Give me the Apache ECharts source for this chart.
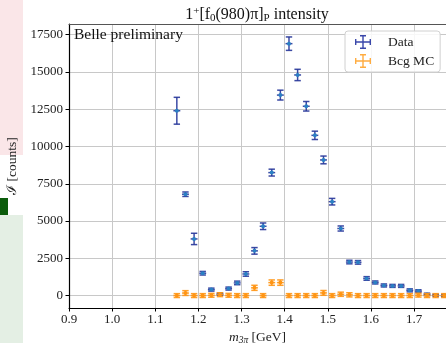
<!DOCTYPE html>
<html><head><meta charset="utf-8">
<script src="https://cdn.jsdelivr.net/npm/echarts@6/dist/echarts.min.js"></script>
<style>html,body{margin:0;padding:0;background:#fff}#c{width:446px;height:343px}</style>
</head><body><div id="c"></div>
<script>
const mass = [1.15,1.17,1.19,1.21,1.23,1.25,1.27,1.29,1.31,1.33,1.35,1.37,1.39,1.41,1.43,1.45,
              1.47,1.49,1.51,1.53,1.55,1.57,1.59,1.61,1.63,1.65,1.67,1.69,1.71,1.73,1.75,1.77];
const dataVals = [12400,6800,3800,1500,400,100,470,850,1450,3000,4650,8250,13450,16900,14800,12700,
                  10750,9100,6300,4500,2250,2230,1150,880,680,650,650,350,300,80,20,0];
const dataErr = [900,150,380,120,100,80,100,120,150,220,220,230,330,450,380,320,
                 280,260,220,170,120,120,120,100,100,100,100,100,90,80,70,70];
const bcgVals = [0,170,0,0,20,60,20,0,0,520,0,870,870,0,0,0,
                 0,180,0,90,50,0,0,0,0,0,0,0,30,0,0,0];
const bcgErr = [130,160,130,130,130,130,130,130,130,170,130,180,180,130,130,130,
                130,160,130,140,140,130,130,130,130,130,130,130,130,130,130,130];
const binHalfWidth = 0.008;
const yTicks = [0,2500,5000,7500,10000,12500,15000,17500];
const xTicks = [0.9,1.0,1.1,1.2,1.3,1.4,1.5,1.6,1.7];

const FONT = 'Liberation Serif';
const BLUE = '#27369a', BLUEDOT = '#2a80c4', ORANGE = '#ff9514';
const chart = echarts.init(document.getElementById('c'), null, {renderer:'canvas'});

function errRender(color, dotColor) {
  return function(params, api) {
    const x = api.value(0), y = api.value(1), e = api.value(2);
    const c = api.coord([x, y]);
    const top = api.coord([x, y + e]);
    const bot = api.coord([x, y - e]);
    const left = api.coord([x - binHalfWidth, y]);
    const right = api.coord([x + binHalfWidth, y]);
    const cap = 3.2;
    const st = {stroke: color, lineWidth: 1.5, opacity: 0.9};
    return {type:'group', children:[
      {type:'line', shape:{x1:c[0], y1:top[1], x2:c[0], y2:bot[1]}, style: st},
      {type:'line', shape:{x1:c[0]-cap, y1:top[1], x2:c[0]+cap, y2:top[1]}, style: st},
      {type:'line', shape:{x1:c[0]-cap, y1:bot[1], x2:c[0]+cap, y2:bot[1]}, style: st},
      {type:'line', shape:{x1:left[0], y1:c[1], x2:right[0], y2:c[1]}, style: st},
      {type:'circle', shape:{cx:c[0], cy:c[1], r:2}, style:{fill: dotColor}}
    ]};
  };
}

const iconPath = 'path://M0 6.3h16v1.4h-16z M0 4h1.4v6h-1.4z M14.6 4h1.4v6h-1.4z M7.3 0h1.4v14h-1.4z M5 0h6v1.4h-6z M5 12.6h6v1.4h-6z';

const option = {
  animation: false,
  grid: {left: 69, top: 24, right: 0, bottom: 35, outerBoundsMode: 'none', containLabel: false},
  xAxis: [{
    type: 'value', min: 0.9, max: 1.774,
    axisLine: {show: true, onZero: false, lineStyle: {color: '#000', width: 1.2}},
    axisTick: {show: true, customValues: xTicks, length: 3.5, lineStyle: {color: '#000'}},
    axisLabel: {customValues: xTicks, margin: 5, fontFamily: FONT, fontSize: 13, color: '#222',
                formatter: v => v.toFixed(1)},
    splitLine: {show: true, lineStyle: {color: '#c8c8c8', width: 1}},
    name: '{i|m}{s|3π}{a| [GeV]}', nameLocation: 'middle', nameGap: 21,
    nameTextStyle: {rich: {
      i: {fontFamily: FONT, fontStyle: 'italic', fontSize: 13.5, color: '#222'},
      s: {fontFamily: FONT, fontStyle: 'italic', fontSize: 9.5, color: '#222', padding: [6,0,0,0]},
      a: {fontFamily: FONT, fontSize: 13.5, color: '#222'}
    }}
  }, {
    type: 'value', position: 'top', min: 0.9, max: 1.774,
    axisLine: {show: true, onZero: false, lineStyle: {color: '#555', width: 1.2}},
    axisTick: {show: false}, axisLabel: {show: false}, splitLine: {show: false}
  }],
  yAxis: [{
    type: 'value', min: -833, max: 18219,
    axisLine: {show: true, onZero: false, lineStyle: {color: '#000', width: 1.2}},
    axisTick: {show: true, customValues: yTicks, length: 3.5, lineStyle: {color: '#000'}},
    axisLabel: {customValues: yTicks, margin: 6, fontFamily: FONT, fontSize: 13, color: '#222',
                formatter: v => String(v)},
    splitLine: {show: true, lineStyle: {color: '#c8c8c8', width: 1}},
    name: 'ℐ [counts]', nameLocation: 'middle', nameGap: 48, nameRotate: 90,
    nameTextStyle: {fontFamily: FONT, fontSize: 13.5, color: '#222'}
  }],
  legend: {
    left: 345, top: 31, orient: 'vertical',
    padding: [4, 6, 4, 10], itemWidth: 16, itemHeight: 14, itemGap: 5,
    backgroundColor: 'rgba(255,255,255,0.85)', borderColor: '#d0d0d0', borderWidth: 1, borderRadius: 3,
    textStyle: {fontFamily: FONT, fontSize: 13.5, color: '#222', padding: [0,0,0,12]},
    data: [
      {name: 'Data', icon: iconPath, itemStyle: {color: '#3a47aa'}},
      {name: 'Bcg MC', icon: iconPath, itemStyle: {color: '#ffac40'}}
    ]
  },
  graphic: [
    {type: 'rect', left: 0, top: 0, shape: {width: 23, height: 155}, style: {fill: '#fae6e8'}, z: 0},
    {type: 'rect', left: 0, top: 198, shape: {width: 8, height: 17}, style: {fill: '#0b5c0b'}, z: 0},
    {type: 'rect', left: 0, top: 215, shape: {width: 23, height: 128}, style: {fill: '#e4efe4'}, z: -1},
    {type: 'text', x: 74, y: 34.5, style: {text: 'Belle preliminary', fontFamily: FONT, fontSize: 15.5,
      fill: '#111', verticalAlign: 'middle'}, z: 10},
    {type: 'text', x: 257, y: 15, style: {
      text: '{a|1}{sup|+}{a|[f}{sub|0}{a|(980)π]}{sub|P}{a| intensity}',
      align: 'center', verticalAlign: 'middle',
      rich: {
        a: {fontFamily: FONT, fontSize: 16, fill: '#111'},
        sup: {fontFamily: FONT, fontSize: 11, fill: '#111', padding: [0,0,8,0]},
        sub: {fontFamily: FONT, fontSize: 11, fill: '#111', padding: [7,0,0,0]}
      }}, z: 10}
  ],
  series: [
    {name: 'Data', type: 'custom', clip: true, color: '#3a47aa',
     renderItem: errRender(BLUE, BLUEDOT), encode: {x: 0, y: 1},
     data: mass.map((m, i) => [m, dataVals[i], dataErr[i]]), z: 3},
    {name: 'Bcg MC', type: 'custom', clip: true, color: '#ffac40',
     renderItem: errRender(ORANGE, ORANGE), encode: {x: 0, y: 1},
     data: mass.map((m, i) => [m, bcgVals[i], bcgErr[i]]), z: 4}
  ]
};
chart.setOption(option);
</script></body></html>
